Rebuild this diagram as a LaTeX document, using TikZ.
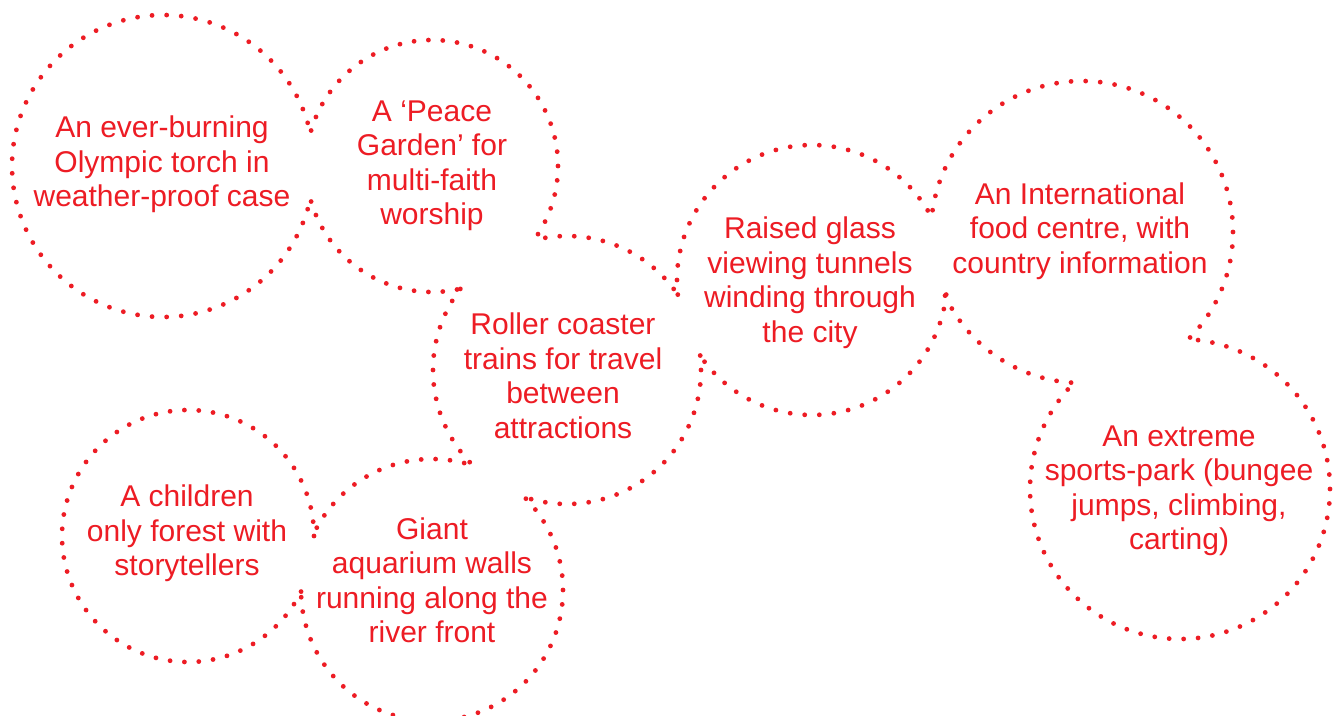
\documentclass[tikz,border=0pt]{standalone}
\usepackage{fontspec}
\setmainfont{Liberation Sans}
\definecolor{ired}{RGB}{237,28,36}
\newif\ifdotvis
\def\circlelist{163/166/151,432/166/126,567/370/134,812/280/135,1082/232/151,1180/489/150,188/536/126,432/590/131}
\tikzset{
  idea/.style={text=ired,align=center,inner sep=0pt,font=\fontsize{30}{34.5}\selectfont},
  dotfill/.style={fill=ired}
}
\begin{document}
\begin{tikzpicture}[x=1pt,y=-1pt]
\useasboundingbox[fill=white] (0,0) rectangle (1340,715);
\node[idea] (olym) at (162,164.5) {An ever-burning\\Olympic torch in\\weather-proof case};
\node[idea] (peace) at (432,166) {A ‘Peace\\Garden’ for\\multi-faith\\worship};
\node[idea] (roller) at (563,376) {Roller coaster\\trains for travel\\between\\attractions};
\node[idea] (raised) at (810,282.5) {Raised glass\\viewing tunnels\\winding through\\the city};
\node[idea] (food) at (1080,231) {An International\\food centre, with\\country information};
\node[idea] (sports) at (1179,491) {An extreme\\sports-park (bungee\\jumps, climbing,\\carting)};
\node[idea] (child) at (187,533.5) {A children\\only forest with\\storytellers};
\node[idea] (aqua) at (432,580.5) {Giant\\aquarium walls\\running along the\\river front};
\foreach \cx/\cy/\rr in \circlelist {
  \pgfmathtruncatemacro\nd{round(2*pi*\rr/14.5)}
  \pgfmathsetmacro\stp{360/\nd}
  \foreach \kk in {1,...,\nd} {
    \pgfmathsetmacro\px{\cx+\rr*cos(\kk*\stp)}
    \pgfmathsetmacro\py{\cy+\rr*sin(\kk*\stp)}
    \global\dotvistrue
    \foreach \ox/\oy/\orr in \circlelist {
      \pgfmathsetmacro\ex{(\px-\ox)/100}
      \pgfmathsetmacro\ey{(\py-\oy)/100}
      \pgfmathsetmacro\er{(\orr-1.5)/100}
      \pgfmathsetmacro\dd{\ex*\ex+\ey*\ey-\er*\er}
      \ifdim\dd pt<0pt \global\dotvisfalse\fi
    }
    \ifdotvis \fill[dotfill] (\px,\py) circle (2.4pt);\fi
  }
}
\end{tikzpicture}
\end{document}
